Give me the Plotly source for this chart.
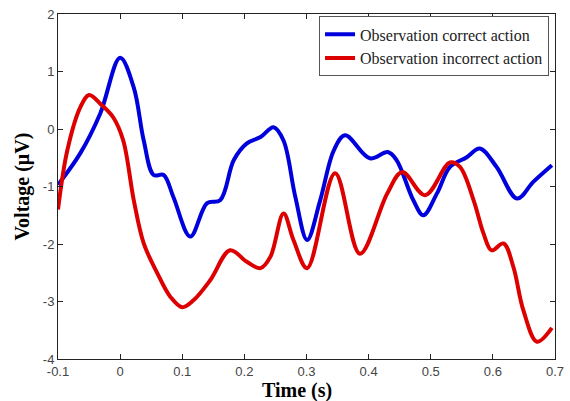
import plotly.graph_objects as go

# Blue: observation correct action
t_correct = [-0.1, -0.064, -0.032, 0.0, 0.022, 0.038, 0.054, 0.07, 0.086, 0.113, 0.14, 0.161,
             0.183, 0.204, 0.226, 0.247, 0.263, 0.282, 0.301, 0.322, 0.344, 0.362, 0.402,
             0.431, 0.445, 0.472, 0.488, 0.51, 0.531, 0.558, 0.579, 0.606, 0.639, 0.665, 0.695]
v_correct = [-0.97, -0.42, 0.27, 1.24, 0.72, -0.2, -0.8, -0.8, -1.19, -1.87, -1.29, -1.24,
             -0.54, -0.25, -0.14, 0.03, -0.2, -1.18, -1.93, -1.24, -0.37, -0.11, -0.51,
             -0.40, -0.54, -1.24, -1.50, -1.12, -0.66, -0.49, -0.34, -0.66, -1.21, -0.92, -0.63]

# Red: observation incorrect action
t_incorrect = [-0.1, -0.085, -0.064, -0.05, -0.032, -0.011, 0.005, 0.022, 0.038, 0.06, 0.081,
               0.1, 0.118, 0.145, 0.177, 0.204, 0.226, 0.242, 0.263, 0.279, 0.301, 0.346,
               0.386, 0.43, 0.454, 0.491, 0.531, 0.547, 0.569, 0.585, 0.598, 0.617, 0.633,
               0.649, 0.671, 0.695]
v_incorrect = [-1.4, -0.37, 0.38, 0.59, 0.44, 0.2, -0.2, -1.24, -1.99, -2.51, -2.92,
               -3.1, -2.98, -2.63, -2.11, -2.31, -2.42, -2.22, -1.47, -1.93, -2.42, -0.77,
               -2.17, -1.12, -0.75, -1.15, -0.58, -0.66, -1.24, -1.82, -2.11, -1.99, -2.40,
               -3.15, -3.70, -3.46]

x_ticks = [-0.1, 0, 0.1, 0.2, 0.3, 0.4, 0.5, 0.6, 0.7]
x_ticklabels = ["-0.1", "0", "0.1", "0.2", "0.3", "0.4", "0.5", "0.6", "0.7"]
y_ticks = [-4, -3, -2, -1, 0, 1, 2]
y_ticklabels = ["-4", "-3", "-2", "-1", "0", "1", "2"]

x_title = "Time (s)"
y_title = "Voltage (μV)"

fig = go.Figure()
fig.add_trace(go.Scatter(x=t_correct, y=v_correct, mode="lines",
                         line=dict(color="#0000dd", width=4, shape="spline", smoothing=1.0),
                         name="Observation correct action"))
fig.add_trace(go.Scatter(x=t_incorrect, y=v_incorrect, mode="lines",
                         line=dict(color="#dd0000", width=4, shape="spline", smoothing=1.0),
                         name="Observation incorrect action"))

axis_common = dict(showline=True, linecolor="#222", linewidth=1, mirror="ticks",
                   ticks="inside", ticklen=5, tickcolor="#222", showgrid=False, zeroline=False,
                   automargin=False,
                   tickfont=dict(family="Liberation Sans", size=13, color="#444"))

fig.update_layout(
    width=570, height=401,
    margin=dict(l=58, r=15, t=14, b=42),
    plot_bgcolor="white", paper_bgcolor="white",
    showlegend=True,
    legend=dict(x=0.988, y=0.993, xanchor="right", yanchor="top",
                bordercolor="#555", borderwidth=1, bgcolor="white",
                font=dict(family="Liberation Serif", size=16, color="#222"),
                tracegroupgap=0, itemwidth=30),
    xaxis=dict(range=[-0.1, 0.7], tickvals=x_ticks, ticktext=x_ticklabels, **axis_common),
    yaxis=dict(range=[-4, 2], tickvals=y_ticks, ticktext=y_ticklabels, **axis_common),
    annotations=[
        dict(text="<b>" + x_title + "</b>", xref="paper", yref="paper",
             x=0.48, y=0, xanchor="center", yanchor="middle", yshift=-31, showarrow=False,
             font=dict(family="Liberation Serif", size=20, color="black")),
        dict(text="<b>" + y_title + "</b>", xref="paper", yref="paper",
             x=0, y=0.5, xanchor="center", yanchor="middle", xshift=-36, showarrow=False,
             textangle=-90,
             font=dict(family="Liberation Serif", size=20, color="black")),
    ],
)

fig.write_html("out.html", config={"displayModeBar": False},
               post_script="document.body.style.margin='0';document.body.style.overflow='hidden';")
